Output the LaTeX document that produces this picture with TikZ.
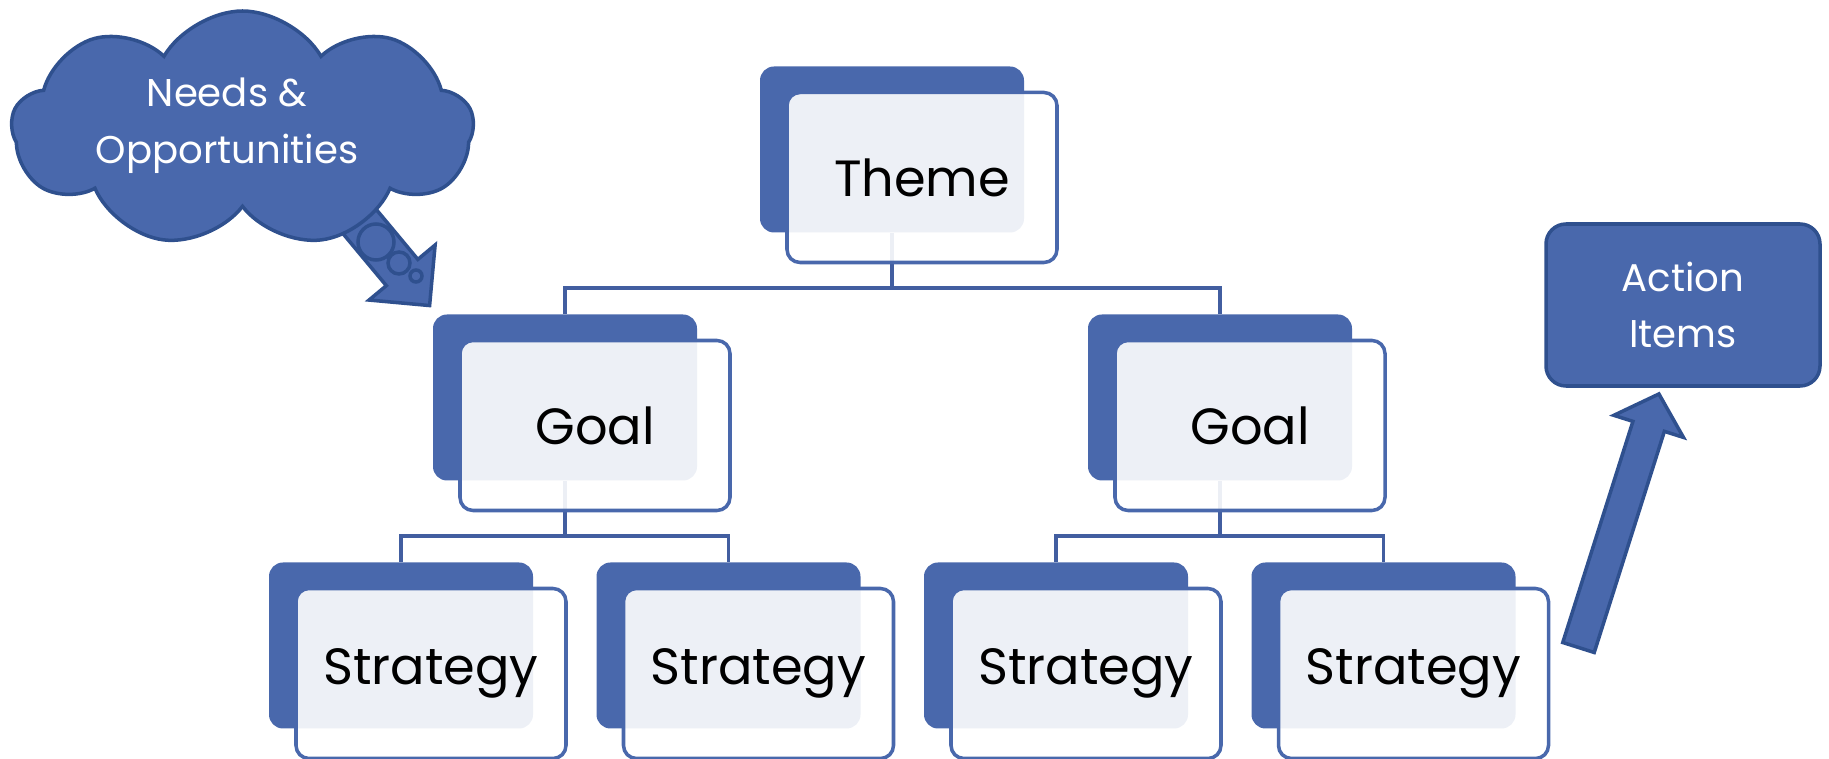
\documentclass[tikz,border=0pt]{standalone}
\usepackage{fontspec}
\setmainfont{Poppins}
\definecolor{main}{RGB}{73,104,172}
\definecolor{edge}{RGB}{47,80,142}
\definecolor{link}{RGB}{66,94,160}
\usetikzlibrary{shapes.symbols, calc}

\begin{document}
\begin{tikzpicture}[
        every node/.style={align=center},
        backbox/.style={rectangle, rounded corners=0.14cm, fill=main, inner sep=0pt, minimum width=2.64cm, minimum height=1.66cm},
        frontbox/.style={rectangle, rounded corners=0.13cm, draw=main, line width=1pt, fill=white, fill opacity=0.9, text opacity=1, inner sep=0pt, minimum width=2.70cm, minimum height=1.70cm, font=\fontsize{14.5}{18}\selectfont},
        link/.style={draw=link, line width=1.1pt},
        blockarrow/.style={fill=main, draw=edge, line width=1pt, line join=miter},
        bubble/.style={fill=main, draw=edge, line width=1pt},
        whitetext/.style={text=white, font=\fontsize{11}{16.2}\selectfont}
    ]
        \useasboundingbox (0,0) rectangle (18.29,7.59);

        % Cajas traseras
        \node[backbox] (theme) at (8.92, 6.095) {};
        \node[backbox] (goalL) at (5.65, 3.615) {};
        \node[backbox] (goalR) at (12.20, 3.615) {};
        \node[backbox] (stratA) at ( 4.010, 1.135) {};
        \node[backbox] (stratB) at ( 7.285, 1.135) {};
        \node[backbox] (stratC) at (10.560, 1.135) {};
        \node[backbox] (stratD) at (13.835, 1.135) {};

        % Conectores del arbol
        \draw[link] (theme.south) -- ++(0,-0.55) coordinate (themeJ);
        \draw[link] (themeJ) -| (goalL.north);
        \draw[link] (themeJ) -| (goalR.north);
        \draw[link] (goalL.south) -- ++(0,-0.55) coordinate (goalLJ);
        \draw[link] (goalLJ) -| (stratA.north);
        \draw[link] (goalLJ) -| (stratB.north);
        \draw[link] (goalR.south) -- ++(0,-0.55) coordinate (goalRJ);
        \draw[link] (goalRJ) -| (stratC.north);
        \draw[link] (goalRJ) -| (stratD.north);

        % Cajas delanteras con texto
        \node[frontbox] (themeF) at ($(theme)+(0.3,-0.28)$) {Theme};
        \node[frontbox] (goalLF) at ($(goalL)+(0.3,-0.28)$) {Goal};
        \node[frontbox] (goalRF) at ($(goalR)+(0.3,-0.28)$) {Goal};
        \node[frontbox] (stratAF) at ($(stratA)+(0.3,-0.28)$) {Strategy};
        \node[frontbox] (stratBF) at ($(stratB)+(0.3,-0.28)$) {Strategy};
        \node[frontbox] (stratCF) at ($(stratC)+(0.3,-0.28)$) {Strategy};
        \node[frontbox] (stratDF) at ($(stratD)+(0.3,-0.28)$) {Strategy};

        % Nube con flecha hacia Goal
        \coordinate (cloudTail) at (3.40, 5.61);
        \begin{scope}[shift={(cloudTail)}, rotate=-50.2]
            \draw[blockarrow] (0,-0.205) -- (0.97,-0.205) -- (0.97,-0.43) -- (1.40,0) -- (0.97,0.43) -- (0.97,0.205) -- (0,0.205) -- cycle;
        \end{scope}
        \node[cloud, cloud puffs=9, cloud puff arc=120, aspect=1.93, fill=main, draw=edge, line width=1pt, minimum width=4.62cm, minimum height=2.36cm] (needs) at (2.425, 6.30) {};
        \node[whitetext] (needsText) at (2.27, 6.33) {Needs \&\\Opportunities};
        \draw[bubble] (3.76, 5.17) circle (0.18);
        \draw[bubble] (3.99, 4.96) circle (0.11);
        \draw[bubble] (4.16, 4.83) circle (0.06);

        % Action Items y flecha
        \node[rectangle, rounded corners=0.2cm, fill=main, draw=edge, line width=1pt, minimum width=2.74cm, minimum height=1.62cm, whitetext] (action) at (16.83, 4.54) {Action\\Items};
        \coordinate (upTail) at (15.785, 1.115);
        \begin{scope}[shift={(upTail)}, rotate=72.4]
            \draw[blockarrow] (0,-0.165) -- (2.32,-0.165) -- (2.32,-0.365) -- (2.66,0) -- (2.32,0.365) -- (2.32,0.165) -- (0,0.165) -- cycle;
        \end{scope}
    \end{tikzpicture}
\end{document}
